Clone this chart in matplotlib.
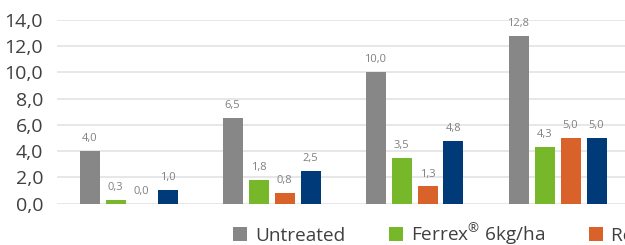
import matplotlib
matplotlib.use("Agg")
import matplotlib.pyplot as plt
import numpy as np

plt.rcParams['font.family'] = ['Open Sans', 'DejaVu Sans']

# values
groups = ["1", "2", "3", "4"]
series_names = ["Untreated", r"Ferrex$^{\mathregular{®}}$ 6kg/ha",
                "Reference product", "Reference product 2"]
untreated = [4.0, 6.5, 10.0, 12.8]
ferrex6 = [0.3, 1.8, 3.5, 4.3]
reference = [0.0, 0.8, 1.3, 5.0]
reference2 = [1.0, 2.5, 4.8, 5.0]
colors = ["#878787", "#76b82a", "#d9622b", "#003a78"]

fig = plt.figure(figsize=(6.25, 2.45), dpi=100)
ax = fig.add_axes([57/625, 41.5/245, 572/625, 183.5/245])

x = np.arange(len(groups))
bw = 20/143
step = 26/143
all_series = [untreated, ferrex6, reference, reference2]
for i, (vals, name, c) in enumerate(zip(all_series, series_names, colors)):
    pos = x + (i - 1.5) * step
    ax.bar(pos, vals, width=bw, color=c, label=name, zorder=3)
    for px, v in zip(pos, vals):
        ax.annotate(f"{v:.1f}".replace(".", ","), (px, v), xytext=(0, 5),
                    textcoords="offset points", ha="center", va="bottom",
                    fontsize=8, color="#808080")

ax.set_xlim(-0.5, len(groups) - 0.5)
ax.set_ylim(0, 14)
ax.set_yticks(np.arange(0, 15, 2))
ax.set_yticklabels([f"{t:.1f}".replace(".", ",") for t in np.arange(0, 15, 2)])
ax.tick_params(axis="y", length=0, pad=10, labelsize=14, labelcolor="#404040")
ax.tick_params(axis="x", length=0, labelbottom=False)
ax.grid(axis="y", color="#e3e3e3", linewidth=1.2, zorder=0)
for s in ax.spines.values():
    s.set_visible(False)

fig.legend(loc="center left", bbox_to_anchor=(233/625, 11/245), ncol=4, frameon=False,
           fontsize=13.7, handlelength=0.75, handleheight=0.75, handletextpad=0.4,
           columnspacing=2.3, borderpad=0, borderaxespad=0, labelcolor="#404040")

fig.savefig("out.png", dpi=100)
